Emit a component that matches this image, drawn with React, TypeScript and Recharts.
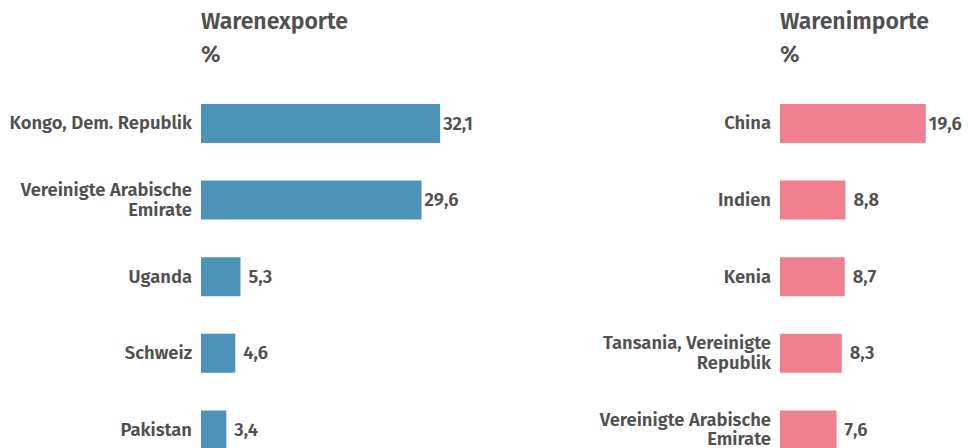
import React from 'react';
import { BarChart, Bar, XAxis, YAxis, LabelList } from 'recharts';

const exportCountries = ['Kongo, Dem. Republik', 'Vereinigte Arabische Emirate', 'Uganda', 'Schweiz', 'Pakistan'];
const exportValues = [32.1, 29.6, 5.3, 4.6, 3.4];
const importCountries = ['China', 'Indien', 'Kenia', 'Tansania, Vereinigte Republik', 'Vereinigte Arabische Emirate'];
const importValues = [19.6, 8.8, 8.7, 8.3, 7.6];
const exportTitle = 'Warenexporte';
const importTitle = 'Warenimporte';
const unitLabel = '%';

const FONT = '"Fira Sans", "Open Sans", sans-serif';
const TEXT = '#505050';
const BLUE = '#4d93b8';
const PINK = '#f08090';

const exportData = exportCountries.map((name, i) => ({ name, value: exportValues[i] }));
const importData = importCountries.map((name, i) => ({ name, value: importValues[i] }));

function wrap(label: string, max = 20): string[] {
  const words = label.split(' ');
  const lines: string[] = [];
  let cur = '';
  for (const w of words) {
    const next = cur ? cur + ' ' + w : w;
    if (next.length > max && cur) {
      lines.push(cur);
      cur = w;
    } else cur = next;
  }
  if (cur) lines.push(cur);
  return lines;
}

const CategoryTick = (props: any) => {
  const { x, y, payload } = props;
  const lines = wrap(String(payload.value));
  const lh = 19.5;
  const start = -((lines.length - 1) * lh) / 2;
  return (
    <text x={x - 1} y={y} textAnchor="end" fill={TEXT} fontFamily={FONT} fontSize={18.4} fontWeight={600}>
      {lines.map((l, i) => (
        <tspan key={i} x={x - 1} dy={i === 0 ? start + 6 : lh}>{l}</tspan>
      ))}
    </text>
  );
};

const ValueLabel = (props: any) => {
  const { x, y, width, height, value } = props;
  const off = value > 15 ? 3 : 8;
  return (
    <text x={x + width + off} y={y + height / 2 + 6} fill={TEXT} fontFamily={FONT} fontSize={18.4} fontWeight={600}>
      {String(value).replace('.', ',')}
    </text>
  );
};

const Panel = ({ data, color, yWidth, domainMax, width }: any) => (
  <BarChart
    layout="vertical"
    width={width}
    height={470}
    data={data}
    margin={{ top: 85, right: 0, bottom: 2, left: 0 }}
    style={{ overflow: 'visible' }}
  >
    <XAxis type="number" domain={[0, domainMax]} hide />
    <YAxis type="category" dataKey="name" width={yWidth} axisLine={false} tickLine={false} tick={<CategoryTick />} interval={0} />
    <Bar dataKey="value" fill={color} barSize={39} isAnimationActive={false}>
      <LabelList dataKey="value" content={<ValueLabel />} />
    </Bar>
  </BarChart>
);

export default function App() {
  return (
    <div style={{ position: 'absolute', left: 0, top: 0, width: 968, height: 448, overflow: 'hidden', background: '#fff' }}>
      <div style={{ position: 'absolute', left: 0, top: 0 }}>
        <Panel data={exportData} color={BLUE} yWidth={201} domainMax={40} width={499} />
      </div>
      <div style={{ position: 'absolute', left: 480, top: 0 }}>
        <Panel data={importData} color={PINK} yWidth={300} domainMax={25} width={486} />
      </div>
      <svg width={968} height={80} style={{ position: 'absolute', left: 0, top: 0 }}>
        {[{ x: 201, t: exportTitle }, { x: 780, t: importTitle }].map((d) => (
          <g key={d.t} fontFamily={FONT} fontWeight={600} fill={TEXT} fontSize={23}>
            <text x={d.x} y={28.5}>{d.t}</text>
            <text x={d.x} y={62}>{unitLabel}</text>
          </g>
        ))}
      </svg>
    </div>
  );
}
